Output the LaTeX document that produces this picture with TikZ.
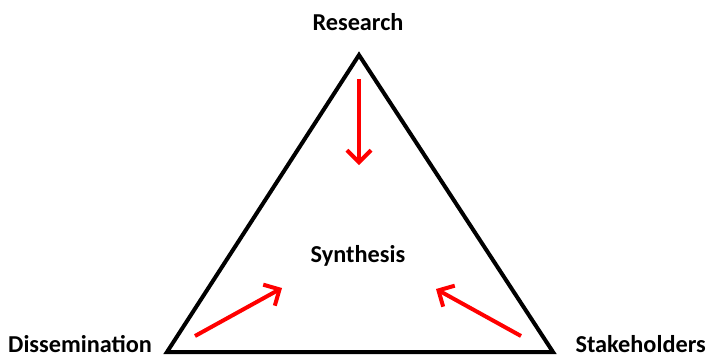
\documentclass[tikz,border=0pt]{standalone}
\usepackage{fontspec}
\setmainfont{Carlito}
\usetikzlibrary{arrows.meta}
\begin{document}
\begin{tikzpicture}[x=1pt,y=-1pt,
  tri/.style={draw=black,line width=4pt,line join=miter},
  redarrow/.style={draw=red,line width=4pt,-{Straight Barb[length=12pt,width=24pt,line width=4pt]}},
  lbl/.style={font=\bfseries\fontsize{24.3}{26}\selectfont,text=black,inner sep=0pt}]
\useasboundingbox (0,0) rectangle (709,357);
\coordinate (T) at (359,55);
\coordinate (L) at (167,352);
\coordinate (R) at (553,352);
\draw[tri] (T) -- (L) -- (R) -- cycle;
\node[lbl,anchor=base] (research) at (358,30) {Research};
\node[lbl,anchor=base] (synth) at (358,262) {Synthesis};
\node[lbl,anchor=base west] (diss) at (8,352) {Dissemination};
\node[lbl,anchor=base east] (stake) at (706,352) {Stakeholders};
\coordinate (a1s) at (359,79);
\coordinate (a1e) at (359,165);
\coordinate (a2s) at (195,336);
\coordinate (a2e) at (282,288);
\coordinate (a3s) at (521,336);
\coordinate (a3e) at (436,289);
\draw[redarrow] (a1s) -- (a1e);
\draw[redarrow] (a2s) -- (a2e);
\draw[redarrow] (a3s) -- (a3e);
\end{tikzpicture}
\end{document}
